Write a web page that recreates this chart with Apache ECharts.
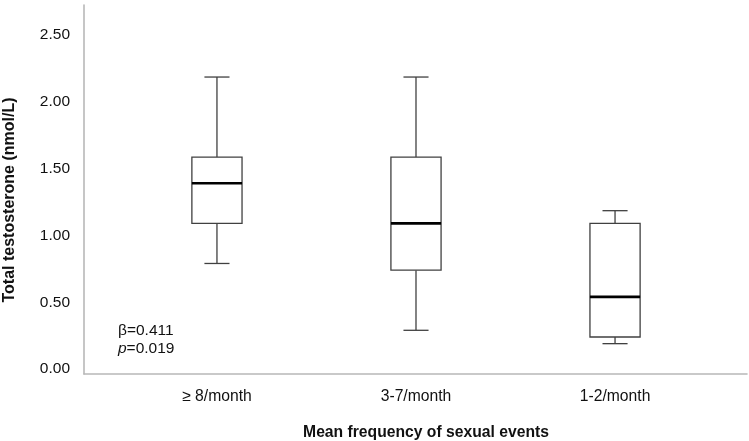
<!DOCTYPE html>
<html>
<head>
<meta charset="utf-8">
<script src="https://cdn.jsdelivr.net/npm/echarts@6/dist/echarts.min.js"></script>
<style>
  html, body { margin: 0; padding: 0; background: #fff; }
  #chart { width: 749px; height: 441px; }
</style>
</head>
<body>
<div id="chart"></div>
<script>
// box plot values
const categories = ['≥ 8/month', '3-7/month', '1-2/month']
const lowWhisker = [0.79, 0.29, 0.19]
const q1 = [1.09, 0.74, 0.24]
const median = [1.39, 1.09, 0.54]
const q3 = [1.585, 1.585, 1.09]
const highWhisker = [2.185, 2.185, 1.185]
const yTicks = [0, 0.5, 1, 1.5, 2, 2.5]
const xPositions = [1, 2, 3]

const boxData = categories.map((c, i) => [xPositions[i], lowWhisker[i], q1[i], median[i], q3[i], highWhisker[i]])

const chart = echarts.init(document.getElementById('chart'))

function renderBox(params, api) {
  const x = api.value(0)
  const unit = api.size([1, 0])[0]
  const half = unit * 0.126
  const capHalf = unit * 0.063
  const pLow = api.coord([x, api.value(1)])
  const pQ1 = api.coord([x, api.value(2)])
  const pMed = api.coord([x, api.value(3)])
  const pQ3 = api.coord([x, api.value(4)])
  const pHigh = api.coord([x, api.value(5)])
  const cx = pMed[0]
  const line = { stroke: '#404040', lineWidth: 1.3 }
  return {
    type: 'group',
    children: [
      { type: 'line', shape: { x1: cx, y1: pHigh[1], x2: cx, y2: pQ3[1] }, style: line },
      { type: 'line', shape: { x1: cx, y1: pQ1[1], x2: cx, y2: pLow[1] }, style: line },
      { type: 'line', shape: { x1: cx - capHalf, y1: pHigh[1], x2: cx + capHalf, y2: pHigh[1] }, style: line },
      { type: 'line', shape: { x1: cx - capHalf, y1: pLow[1], x2: cx + capHalf, y2: pLow[1] }, style: line },
      {
        type: 'rect',
        shape: { x: cx - half, y: pQ3[1], width: half * 2, height: pQ1[1] - pQ3[1] },
        style: { fill: '#fff', stroke: '#404040', lineWidth: 1.3 }
      },
      { type: 'line', shape: { x1: cx - half, y1: pMed[1], x2: cx + half, y2: pMed[1] }, style: { stroke: '#000', lineWidth: 2.6 } }
    ]
  }
}

chart.setOption({
  animation: false,
  backgroundColor: '#fff',
  grid: {
    left: 84,
    right: 2,
    top: 5,
    bottom: 67
  },
  xAxis: {
    type: 'value',
    min: 0.332,
    max: 3.663,
    splitLine: { show: false },
    axisTick: { show: false },
    axisLine: {
      show: true,
      onZero: false,
      lineStyle: { color: '#b8b8b8', width: 1.6 }
    },
    axisLabel: {
      customValues: xPositions,
      formatter: v => categories[Math.round(v) - 1] || '',
      color: '#111',
      fontSize: 15.7,
      fontFamily: 'Liberation Sans, Arial, sans-serif',
      margin: 15
    }
  },
  yAxis: {
    type: 'value',
    min: -0.037,
    max: 2.724,
    splitLine: { show: false },
    axisTick: { show: false },
    axisLine: {
      show: true,
      onZero: false,
      lineStyle: { color: '#b8b8b8', width: 1.6 }
    },
    axisLabel: {
      customValues: yTicks,
      formatter: v => v.toFixed(2),
      color: '#111',
      fontSize: 15.5,
      fontFamily: 'Liberation Sans, Arial, sans-serif',
      margin: 14
    }
  },
  series: [
    {
      type: 'custom',
      renderItem: renderBox,
      encode: { x: 0, y: [1, 2, 3, 4, 5] },
      data: boxData
    }
  ],
  graphic: [
    {
      type: 'text',
      x: 10,
      y: 200,
      rotation: Math.PI / 2,
      style: {
        text: 'Total testosterone (nmol/L)',
        font: 'bold 16px Liberation Sans, Arial, sans-serif',
        fill: '#111',
        align: 'center',
        verticalAlign: 'middle'
      }
    },
    {
      type: 'text',
      x: 426,
      y: 433,
      style: {
        text: 'Mean frequency of sexual events',
        font: 'bold 15.7px Liberation Sans, Arial, sans-serif',
        fill: '#111',
        align: 'center',
        verticalAlign: 'middle'
      }
    },
    {
      type: 'text',
      x: 118,
      y: 331,
      style: {
        text: 'β=0.411',
        font: '15.5px Liberation Sans, Arial, sans-serif',
        fill: '#111',
        align: 'left',
        verticalAlign: 'middle'
      }
    },
    {
      type: 'text',
      x: 118,
      y: 349,
      style: {
        text: '{i|p}=0.019',
        font: '15.5px Liberation Sans, Arial, sans-serif',
        fill: '#111',
        align: 'left',
        verticalAlign: 'middle',
        rich: {
          i: { fontStyle: 'italic', fontSize: 15.5, fontFamily: 'Liberation Sans, Arial, sans-serif', fill: '#111' }
        }
      }
    }
  ]
})

window.addEventListener('resize', () => {
  chart.resize()
})
</script>
</body>
</html>
